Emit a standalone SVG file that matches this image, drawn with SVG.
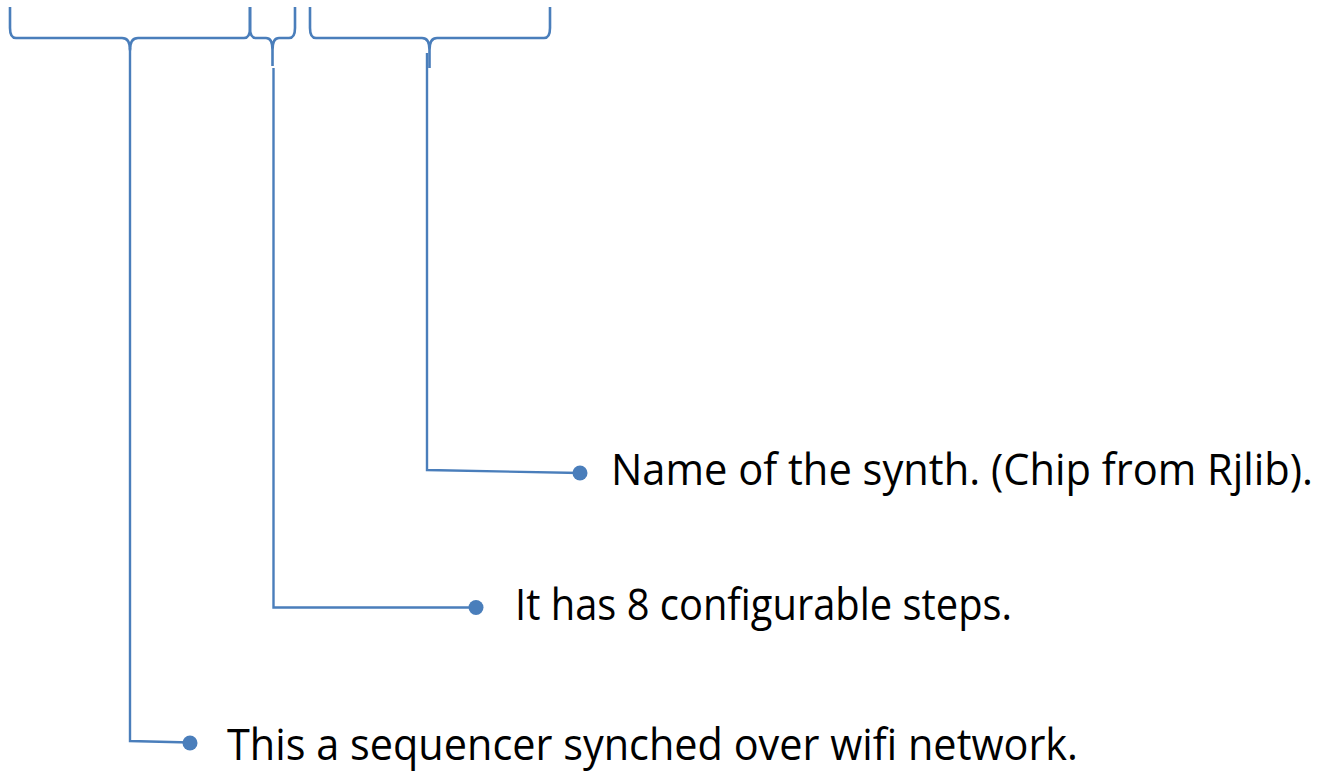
<svg xmlns="http://www.w3.org/2000/svg" width="1326" height="772" viewBox="0 0 1326 772">
<defs>
<style>
.brace{fill:none;stroke:#4a7ebb;stroke-width:2.6;stroke-linejoin:round}
.conn{fill:none;stroke:#4a7ebb;stroke-width:2.4}
.dot{fill:#4a7ebb}
.lbl{font-family:"Open Sans","Liberation Sans",sans-serif;font-size:43px;fill:#000}
</style>
</defs>
<rect width="1326" height="772" fill="#fff"/>
<g id="brace-sequencer">
<path class="brace" d="M10 7 V28 Q10 38 16 38 H122 Q130 38 130 50 Q130 38 138 38 H244 Q250 38 250 28 V7"/>
</g>
<g id="brace-steps">
<path class="brace" d="M250 7 V28 Q250 38 256 38 H266 Q272.5 38 272.5 50 V66 M272.5 50 Q272.5 38 279 38 H289 Q295 38 295 28 V7"/>
</g>
<g id="brace-name">
<path class="brace" d="M310 7 V28 Q310 38 316 38 H422 Q429.5 38 429.5 50 V68 M429.5 50 Q429.5 38 437 38 H544 Q550 38 550 28 V7"/>
</g>
<g id="connectors">
<path class="conn" d="M130 48 V741 L190 742.5"/>
<path class="conn" d="M273.5 68 V607.5 H476"/>
<path class="conn" d="M427 53 V470 L580 473"/>
</g>
<g id="node-name">
<circle class="dot" cx="580" cy="473" r="7.5"/>
<text class="lbl" x="611" y="485" textLength="702" lengthAdjust="spacingAndGlyphs">Name of the synth. (Chip from Rjlib).</text>
</g>
<g id="node-steps">
<circle class="dot" cx="476" cy="607.5" r="7.5"/>
<text class="lbl" x="515" y="620" textLength="497" lengthAdjust="spacingAndGlyphs">It has 8 configurable steps.</text>
</g>
<g id="node-sequencer">
<circle class="dot" cx="190" cy="743" r="7.5"/>
<text class="lbl" x="227" y="760" textLength="851" lengthAdjust="spacingAndGlyphs">This a sequencer synched over wifi network.</text>
</g>
</svg>
